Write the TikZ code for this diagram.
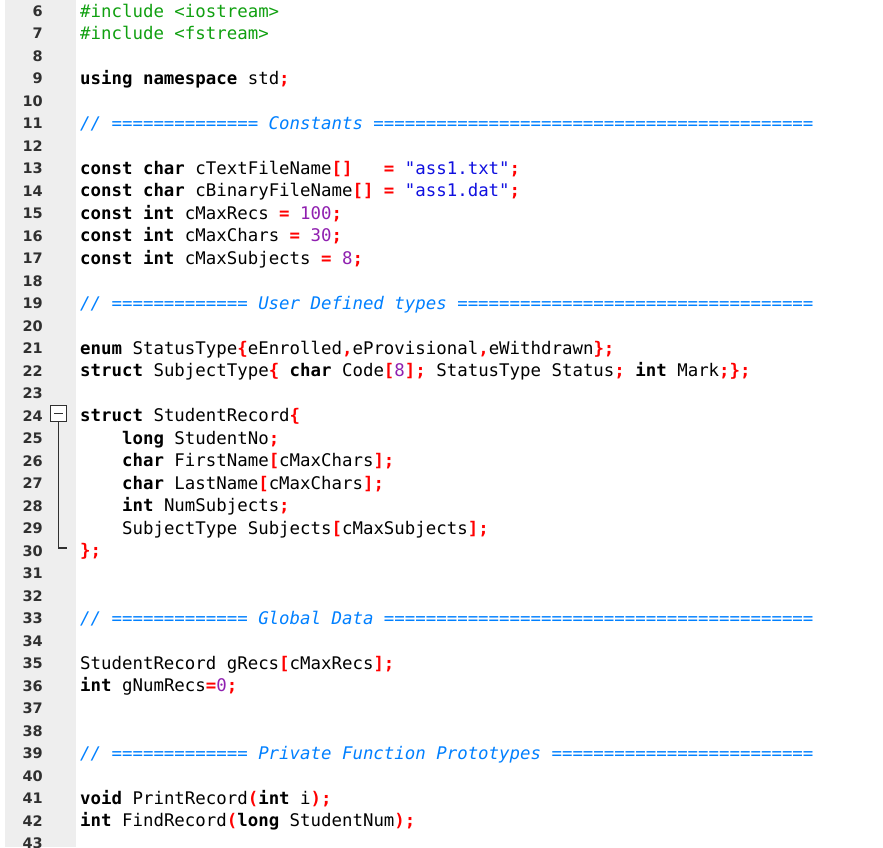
\documentclass[tikz,border=0pt]{standalone}
\usepackage{fontspec}
\setmonofont{DejaVu Sans Mono}
\newfontfamily\numfont{DejaVu Sans}
\definecolor{cred}{HTML}{FF0000}
\definecolor{cgreen}{HTML}{10A010}
\definecolor{ccmt}{HTML}{0080FF}
\definecolor{cstr}{HTML}{1010E0}
\definecolor{cnum}{HTML}{9020B0}
\definecolor{cgut}{HTML}{EEEEEE}
\definecolor{cln}{HTML}{303030}
\newcommand\kw[1]{\textbf{#1}}
\newcommand\rp[1]{\textcolor{cred}{\textbf{#1}}}
\newcommand\stx[1]{\textcolor{cstr}{#1}}
\newcommand\nm[1]{\textcolor{cnum}{#1}}
\newcommand\cmt[1]{\textcolor{ccmt}{\itshape #1}}
\newcommand\pp[1]{\textcolor{cgreen}{#1}}
\newcommand\codeln[2]{\node[code] (c#1) at (80,{17+(#1-6)*22.49}) {#2};}
\begin{document}
\begin{tikzpicture}[x=1pt,y=-1pt,
  code/.style={anchor=base west,inner sep=0pt,font=\ttfamily\fontsize{17.4}{20}\selectfont},
  lnum/.style={anchor=base east,inner sep=0pt,text=cln,font=\numfont\bfseries\fontsize{14.5}{16}\selectfont}]
\clip (0,0) rectangle (883,847);
\useasboundingbox (0,0) rectangle (883,847);
\fill[white] (0,0) rectangle (883,847);
\fill[cgut] (5,0) rectangle (76,847);
\foreach \n in {6,...,43} {
  \node[lnum] (ln\n) at (43,{16.5+(\n-6)*22.49}) {\n};
}
\codeln{6}{\pp{\#include <iostream>}}
\codeln{7}{\pp{\#include <fstream>}}
\codeln{9}{\kw{using namespace} std\rp{;}}
\codeln{11}{\cmt{// ============== Constants ==========================================}}
\codeln{13}{\kw{const char} cTextFileName\rp{[]}\ \ \ \rp{=} \stx{"ass1.txt"}\rp{;}}
\codeln{14}{\kw{const char} cBinaryFileName\rp{[]} \rp{=} \stx{"ass1.dat"}\rp{;}}
\codeln{15}{\kw{const int} cMaxRecs \rp{=} \nm{100}\rp{;}}
\codeln{16}{\kw{const int} cMaxChars \rp{=} \nm{30}\rp{;}}
\codeln{17}{\kw{const int} cMaxSubjects \rp{=} \nm{8}\rp{;}}
\codeln{19}{\cmt{// ============= User Defined types ==================================}}
\codeln{21}{\kw{enum} StatusType\rp{\{}eEnrolled\rp{,}eProvisional\rp{,}eWithdrawn\rp{\};}}
\codeln{22}{\kw{struct} SubjectType\rp{\{} \kw{char} Code\rp{[}\nm{8}\rp{];} StatusType Status\rp{;} \kw{int} Mark\rp{;\};}}
\codeln{24}{\kw{struct} StudentRecord\rp{\{}}
\codeln{25}{\ \ \ \ \kw{long} StudentNo\rp{;}}
\codeln{26}{\ \ \ \ \kw{char} FirstName\rp{[}cMaxChars\rp{];}}
\codeln{27}{\ \ \ \ \kw{char} LastName\rp{[}cMaxChars\rp{];}}
\codeln{28}{\ \ \ \ \kw{int} NumSubjects\rp{;}}
\codeln{29}{\ \ \ \ SubjectType Subjects\rp{[}cMaxSubjects\rp{];}}
\codeln{30}{\rp{\};}}
\codeln{33}{\cmt{// ============= Global Data =========================================}}
\codeln{35}{StudentRecord gRecs\rp{[}cMaxRecs\rp{];}}
\codeln{36}{\kw{int} gNumRecs\rp{=}\nm{0}\rp{;}}
\codeln{39}{\cmt{// ============= Private Function Prototypes =========================}}
\codeln{41}{\kw{void} PrintRecord\rp{(}\kw{int} i\rp{);}}
\codeln{42}{\kw{int} FindRecord\rp{(}\kw{long} StudentNum\rp{);}}
% fold marker
\draw[cln,fill=white,line width=1pt] (50.5,405.5) rectangle (66.5,421.5);
\draw[cln,line width=1.2pt] (54,413.5) -- (63,413.5);
\draw[cln,line width=1.4pt] (58.5,421.5) -- (58.5,548) -- (67,548);
\end{tikzpicture}
\end{document}
